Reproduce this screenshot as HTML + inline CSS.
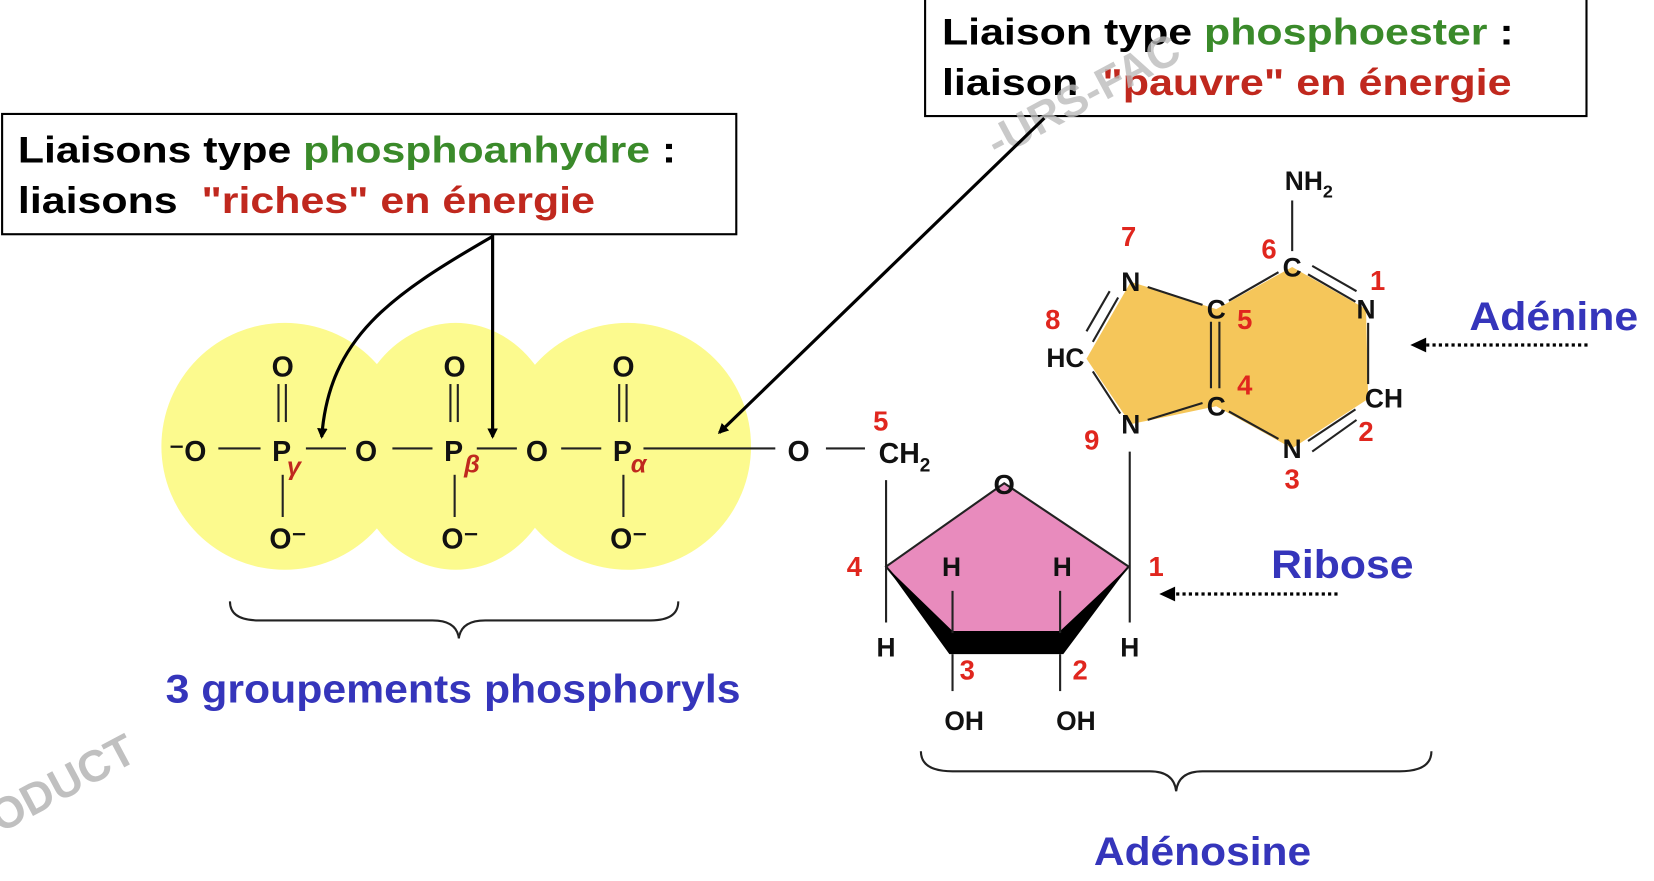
<!DOCTYPE html>
<html><head><meta charset="utf-8"><style>
html,body{margin:0;padding:0;background:#fff;}
svg{display:block;}
text{font-family:"Liberation Sans",Arial,sans-serif;font-weight:bold;}
</style></head><body>
<svg width="1654" height="881" viewBox="0 0 1568 835" preserveAspectRatio="none" xmlns="http://www.w3.org/2000/svg">
<defs>
<marker id="ah" markerWidth="10" markerHeight="10" refX="8" refY="5" orient="auto" markerUnits="userSpaceOnUse">
<path d="M0,0 L10,5 L0,10 z" fill="#000"/></marker>
</defs>
<rect width="1568" height="835" fill="#fff"/>
<!-- yellow circles -->
<g fill="#fcfa8e">
<ellipse cx="270" cy="423" rx="117" ry="117"/>
<ellipse cx="432" cy="423" rx="100" ry="117"/>
<ellipse cx="595" cy="423" rx="117" ry="117"/>
</g>
<!-- boxes -->
<rect x="2" y="108" width="696" height="114" fill="#fff" stroke="#000" stroke-width="2"/>
<text x="17" y="154" font-size="35" fill="#000" textLength="624" lengthAdjust="spacingAndGlyphs">Liaisons type <tspan fill="#3a8a2a">phosphoanhydre</tspan> :</text>
<text x="17" y="202" font-size="35" fill="#000" xml:space="preserve" textLength="547" lengthAdjust="spacingAndGlyphs">liaisons  <tspan fill="#c0281e">"riches" en énergie</tspan></text>
<rect x="877" y="-2" width="627" height="112" fill="#fff" stroke="#000" stroke-width="2"/>
<text x="893" y="42" font-size="35" fill="#000" textLength="542" lengthAdjust="spacingAndGlyphs">Liaison type <tspan fill="#3a8a2a">phosphoester</tspan> :</text>
<text x="893" y="90" font-size="35" fill="#000" xml:space="preserve" textLength="540" lengthAdjust="spacingAndGlyphs">liaison  <tspan fill="#c0281e">"pauvre" en énergie</tspan></text>
<!-- watermark -->
<text x="945" y="150" font-size="42" fill="#bbbbbb" fill-opacity="0.8" transform="rotate(-28 945 150)">-URS-FAC</text>
<text x="0" y="790" font-size="42" fill="#c0c0c0" transform="rotate(-28 0 790)">ODUCT</text>
<!-- phosphate chain -->
<g stroke="#222" stroke-width="2" fill="none">
<line x1="207" y1="425" x2="247" y2="425"/>
<line x1="290" y1="425" x2="328" y2="425"/>
<line x1="372" y1="425" x2="410" y2="425"/>
<line x1="452" y1="425" x2="490" y2="425"/>
<line x1="532" y1="425" x2="570" y2="425"/>
<line x1="610" y1="425" x2="735" y2="425"/>
<line x1="783" y1="425" x2="820" y2="425"/>
<line x1="264" y1="364" x2="264" y2="400"/><line x1="271" y1="364" x2="271" y2="400"/>
<line x1="427" y1="364" x2="427" y2="400"/><line x1="434" y1="364" x2="434" y2="400"/>
<line x1="587" y1="364" x2="587" y2="400"/><line x1="594" y1="364" x2="594" y2="400"/>
<line x1="268" y1="450" x2="268" y2="490"/>
<line x1="431" y1="450" x2="431" y2="490"/>
<line x1="591" y1="450" x2="591" y2="490"/>
</g>
<g font-size="27" fill="#111" text-anchor="middle">
<text x="178" y="437">⁻O</text>
<text x="267" y="437">P</text><text x="347" y="437">O</text>
<text x="430" y="437">P</text><text x="509" y="437">O</text>
<text x="590" y="437">P</text>
<text x="268" y="357">O</text><text x="431" y="357">O</text><text x="591" y="357">O</text>
<text x="273" y="520">O⁻</text><text x="436" y="520">O⁻</text><text x="596" y="520">O⁻</text>
<text x="757" y="437">O</text>
</g>
<text x="833" y="439" font-size="27" fill="#111">CH<tspan font-size="18" dy="8">2</tspan></text>
<g fill="#c0281e" font-size="24" font-style="italic">
<text x="272" y="450">γ</text><text x="440" y="448">β</text><text x="598" y="448">α</text>
</g>
<!-- arrows -->
<g stroke="#000" stroke-width="3" fill="none">
<line x1="467" y1="222" x2="467" y2="414" marker-end="url(#ah)"/>
<path d="M467,224 C370,280 312,320 305,414" marker-end="url(#ah)"/>
<line x1="990" y1="112" x2="682" y2="410" marker-end="url(#ah)"/>
</g>
<!-- ribose -->
<polygon points="952,458 1070,537 1005,612 903,612 840,537" fill="#e88bbd" stroke="#222" stroke-width="2"/>
<polygon points="840,537 903,598 1005,598 1070,537 1008,620 900,620" fill="#000"/>
<g stroke="#222" stroke-width="2">
<line x1="840" y1="455" x2="840" y2="590"/>
<line x1="1071" y1="428" x2="1071" y2="590"/>
<line x1="903" y1="560" x2="903" y2="600"/>
<line x1="1005" y1="560" x2="1005" y2="600"/>
<line x1="903" y1="620" x2="903" y2="655"/>
<line x1="1005" y1="620" x2="1005" y2="655"/>
</g>
<g font-size="25" fill="#111" text-anchor="middle">
<text x="952" y="468" font-size="26">O</text>
<text x="902" y="546">H</text><text x="1007" y="546">H</text>
<text x="840" y="622">H</text><text x="1071" y="622">H</text>
<text x="914" y="692">OH</text><text x="1020" y="692">OH</text>
</g>
<!-- adenine -->
<polygon points="1072,267 1153,293 1225,253 1295,293 1297,378 1225,425 1153,385 1072,402 1030,340" fill="#f5c65a"/>
<g stroke="#222" stroke-width="2" fill="none">
<line x1="1225" y1="190" x2="1225" y2="238"/>
<line x1="1088" y1="272" x2="1140" y2="289"/>
<line x1="1088" y1="398" x2="1140" y2="382"/>
<line x1="1060" y1="282" x2="1036" y2="324"/><line x1="1052" y1="276" x2="1030" y2="314"/>
<line x1="1036" y1="352" x2="1062" y2="392"/>
<line x1="1148" y1="305" x2="1148" y2="368"/><line x1="1156" y1="305" x2="1156" y2="368"/>
<line x1="1165" y1="285" x2="1212" y2="258"/>
<line x1="1240" y1="260" x2="1285" y2="286"/><line x1="1244" y1="252" x2="1286" y2="276"/>
<line x1="1297" y1="306" x2="1297" y2="364"/>
<line x1="1165" y1="390" x2="1212" y2="416"/>
<line x1="1240" y1="418" x2="1285" y2="388"/><line x1="1244" y1="428" x2="1286" y2="398"/>
</g>
<g font-size="25" fill="#111" text-anchor="middle">
<text x="1072" y="276">N</text><text x="1153" y="302">C</text>
<text x="1153" y="394">C</text><text x="1072" y="411">N</text>
<text x="1225" y="262">C</text><text x="1295" y="302">N</text>
<text x="1225" y="434">N</text>
<text x="1010" y="348">HC</text>
<text x="1312" y="386">CH</text>
</g>
<text x="1218" y="180" font-size="25" fill="#111">NH<tspan font-size="17" dy="7">2</tspan></text>
<g font-size="26" fill="#e0261e" text-anchor="middle">
<text x="1070" y="233">7</text><text x="1203" y="245">6</text><text x="1306" y="275">1</text>
<text x="998" y="312">8</text><text x="1180" y="312">5</text><text x="1180" y="374">4</text>
<text x="1035" y="426">9</text><text x="1295" y="418">2</text><text x="1225" y="463">3</text>
<text x="835" y="408">5</text>
<text x="810" y="546">4</text><text x="1096" y="546">1</text>
<text x="917" y="644">3</text><text x="1024" y="644">2</text>
</g>
<!-- labels -->
<g fill="#3535bb" font-size="38">
<text x="1393" y="313" textLength="160" lengthAdjust="spacingAndGlyphs">Adénine</text>
<text x="1205" y="548" textLength="135" lengthAdjust="spacingAndGlyphs">Ribose</text>
<text x="157" y="666" textLength="545" lengthAdjust="spacingAndGlyphs">3 groupements phosphoryls</text>
<text x="1037" y="820" textLength="206" lengthAdjust="spacingAndGlyphs">Adénosine</text>
</g>
<g stroke="#000" stroke-width="3" stroke-dasharray="3,3">
<line x1="1505" y1="327" x2="1350" y2="327"/>
<line x1="1268" y1="563" x2="1112" y2="563"/>
</g>
<path d="M1337,327 L1352,320 L1352,334 z" fill="#000"/>
<path d="M1099,563 L1114,556 L1114,570 z" fill="#000"/>
<!-- braces -->
<g stroke="#222" stroke-width="2" fill="none">
<path d="M218,570 Q218,588 245,588 L410,588 Q433,588 435,605 Q437,588 460,588 L617,588 Q643,588 643,570"/>
<path d="M873,712 Q873,731 903,731 L1090,731 Q1113,731 1115,750 Q1117,731 1140,731 L1327,731 Q1357,731 1357,712"/>
</g>
</svg>
</body></html>
